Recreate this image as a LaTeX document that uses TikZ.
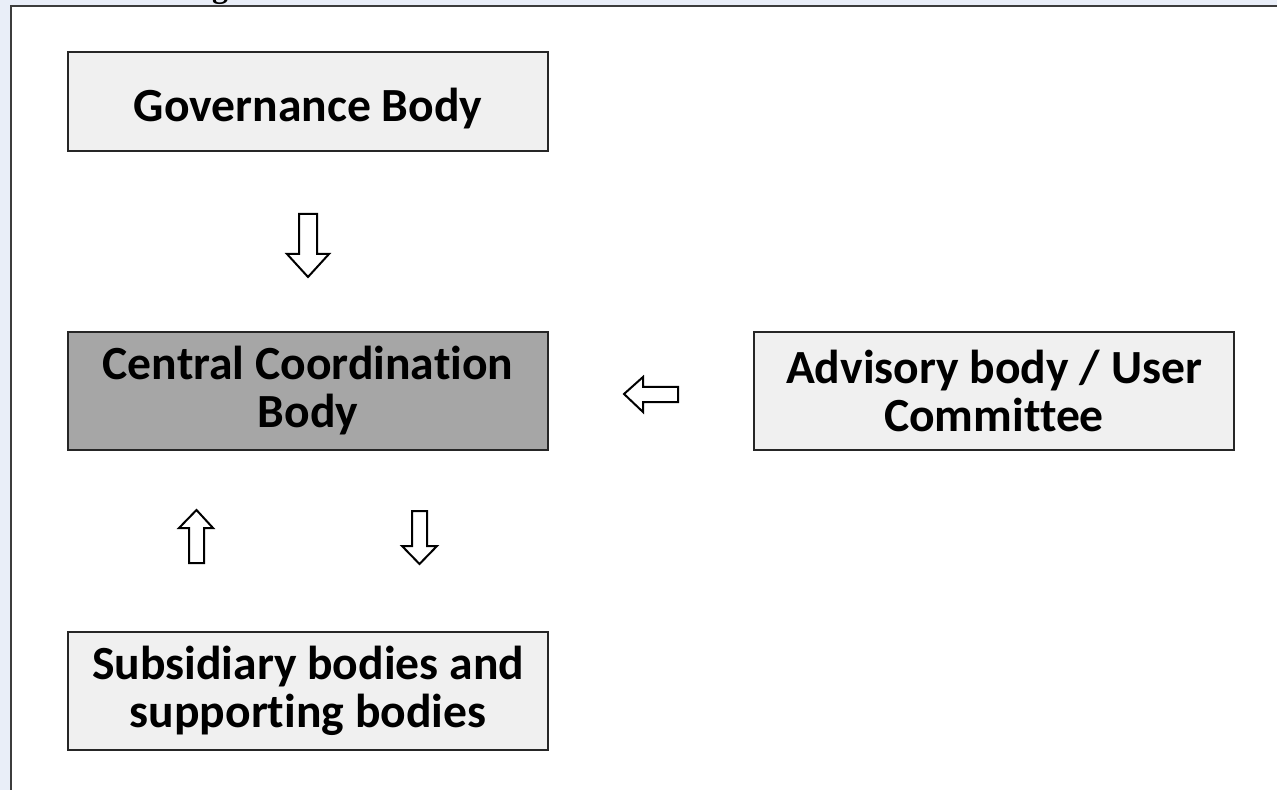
\documentclass[tikz,border=0pt]{standalone}
\usepackage{fontspec}
\setmainfont[Ligatures=NoCommon]{Carlito}
\newfontfamily\titlefont{Liberation Serif}
\definecolor{pagebg}{HTML}{E9EEF8}
\definecolor{framec}{HTML}{3C3C3C}
\definecolor{lightbox}{HTML}{F0F0F0}
\definecolor{darkbox}{HTML}{A6A6A6}
\begin{document}
\begin{tikzpicture}[x=0.5pt,y=-0.5pt,
  box/.style={draw=black!85, line width=0.75pt, fill=lightbox, minimum width=240pt, minimum height=59pt,
    inner sep=0pt, align=center, font=\fontsize{23.8}{24}\selectfont\bfseries, text=black},
  blockarrow/.style={draw=black, line width=1pt, fill=white, line join=miter}]
\useasboundingbox (0,0) rectangle (1277,790);
\clip (0,0) rectangle (1277,790);
\fill[pagebg] (0,0) rectangle (1277,790);
\fill[white] (11,6) rectangle (1290,800);
\draw[framec, line width=1pt] (11,810) -- (11,6) -- (1290,6);
\node[anchor=south, inner sep=0pt, font=\titlefont\fontsize{16}{18}\selectfont\bfseries] (title) at (220,5) {g};
% boxes
\node[box, minimum height=49.5pt] (gov) at (308,101.5) {\raisebox{-10pt}[0pt][0pt]{Governance Body}};
\node[box, fill=darkbox] (ccb) at (308,391) {Central Coordination\\Body};
\node[box] (adv) at (994,391) {Advisory body / User\\Committee};
\node[box] (sub) at (308,691) {Subsidiary bodies and\\supporting bodies};
% block arrows
\draw[blockarrow] (299,214) -- (317,214) -- (317,254) -- (329,254) -- (308,277) -- (287,254) -- (299,254) -- cycle;
\draw[blockarrow] (678,387) -- (643,387) -- (643,377) -- (624,394) -- (643,412) -- (643,402) -- (678,402) -- cycle;
\draw[blockarrow] (189,563) -- (189,528) -- (179,528) -- (196.5,510) -- (213,528) -- (204,528) -- (204,563) -- cycle;
\draw[blockarrow] (412,511) -- (427,511) -- (427,546) -- (437,546) -- (419.5,564) -- (402,546) -- (412,546) -- cycle;
\end{tikzpicture}
\end{document}
